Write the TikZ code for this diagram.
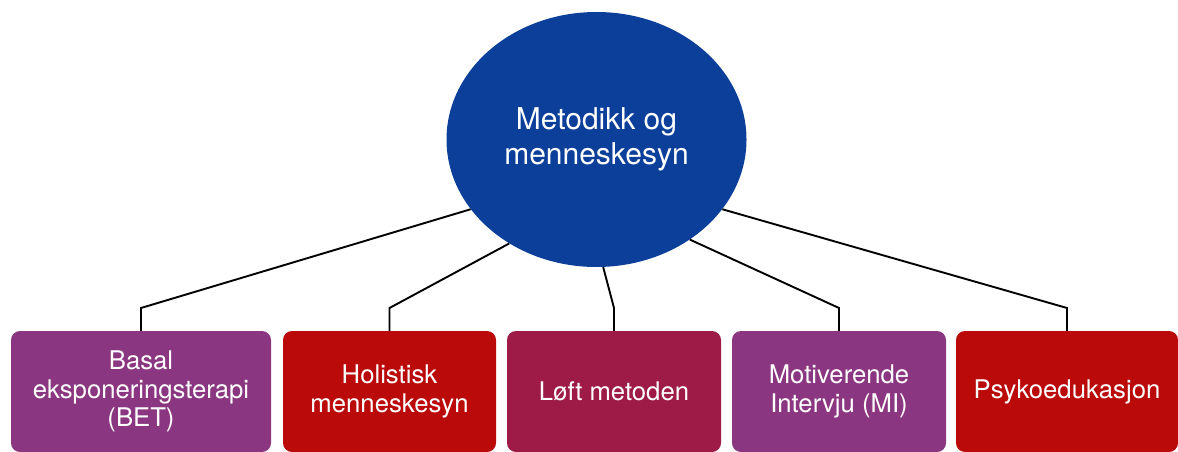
\documentclass[tikz,border=0pt]{standalone}
\usepackage{fontspec}
\setmainfont{TeX Gyre Heros}
\usetikzlibrary{positioning, shapes.geometric}
\definecolor{hubblue}{RGB}{11,63,153}
\definecolor{violett}{RGB}{139,54,128}
\definecolor{signalred}{RGB}{186,10,10}
\definecolor{crimson}{RGB}{158,26,71}

\begin{document}
\begin{tikzpicture}[x=1pt, y=-1pt,
    hub/.style={ellipse, fill=hubblue, text=white, inner sep=0pt, minimum width=300pt,
                minimum height=255pt, align=center, font=\fontsize{30}{35}\selectfont},
    box/.style={rectangle, rounded corners=9pt, text=white, inner sep=0pt, minimum height=121pt,
                align=center, font=\fontsize{25.7}{28.3}\selectfont},
    link/.style={draw=black, line width=1.9pt}]
  \useasboundingbox (0,0) rectangle (1178,452);

  \node[hub]                                          (ctr) at (596.5, 139.5) {Metodikk og\\menneskesyn};
  \node[box, fill=violett,   minimum width=260pt]    (b1)  at (141, 391.5)   {Basal\\eksponeringsterapi\\(BET)};
  \node[box, fill=signalred, minimum width=213pt]    (b2)  at (389.5, 391.5) {Holistisk\\menneskesyn};
  \node[box, fill=crimson,   minimum width=214pt]    (b3)  at (614, 391.5)   {Løft metoden};
  \node[box, fill=violett,   minimum width=214pt]    (b4)  at (839, 391.5)   {Motiverende\\Intervju (MI)};
  \node[box, fill=signalred, minimum width=222pt]    (b5)  at (1067, 391.5)  {Psykoedukasjon};

  \coordinate (k1) at (141, 308);
  \coordinate (k2) at (389.5, 308);
  \coordinate (k3) at (614, 308);
  \coordinate (k4) at (839, 308);
  \coordinate (k5) at (1067, 308);

  \draw[link] (ctr.209.5) -- (k1) -- (b1.north);
  \draw[link] (ctr.230.4) -- (k2) -- (b2.north);
  \draw[link] (ctr.273.8) -- (k3) -- (b3.north);
  \draw[link] (ctr.313.2) -- (k4) -- (b4.north);
  \draw[link] (ctr.331.7) -- (k5) -- (b5.north);
\end{tikzpicture}
\end{document}
